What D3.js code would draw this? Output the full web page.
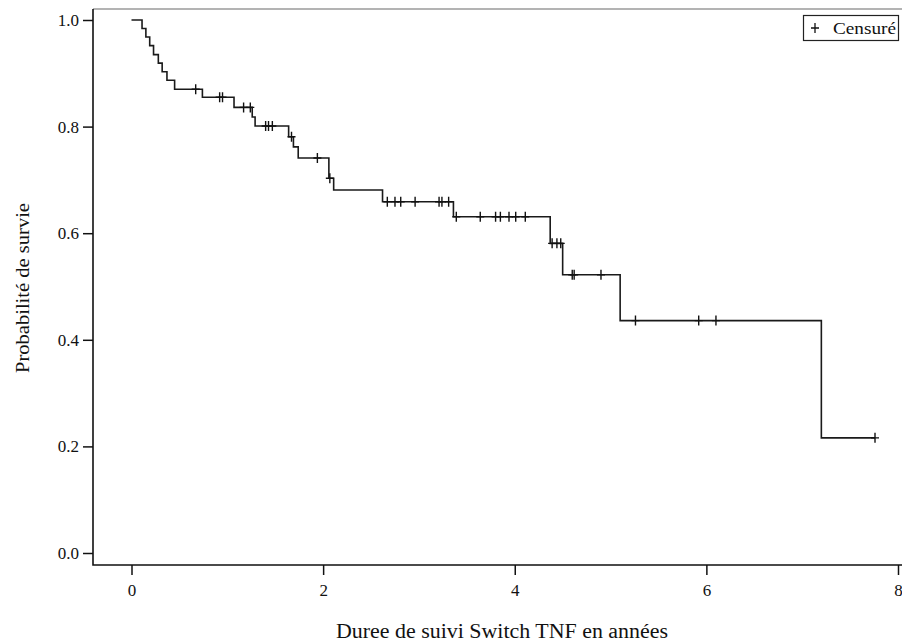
<!DOCTYPE html>
<html>
<head>
<meta charset="utf-8">
<script src="https://cdn.jsdelivr.net/npm/d3@7"></script>
<style>
  body { margin: 0; background: #fff; }
  svg text { font-family: "Liberation Serif", "Times New Roman", serif; fill: #111; }
</style>
</head>
<body>
<script>
// Kaplan-Meier steps
var eventTimes = [0.11, 0.15, 0.19, 0.23, 0.28, 0.32, 0.37, 0.45, 0.74, 1.07, 1.26, 1.29,
  1.64, 1.69, 1.74, 2.06, 2.11, 2.62, 3.36, 4.37, 4.50, 5.10, 7.20];
var survival = [0.984, 0.968, 0.952, 0.935, 0.919, 0.903, 0.887, 0.870, 0.855, 0.836, 0.818, 0.801,
  0.781, 0.762, 0.741, 0.703, 0.681, 0.659, 0.631, 0.581, 0.522, 0.436, 0.216];
var censorTimes = [0.67, 0.92, 0.95, 1.17, 1.24, 1.40, 1.43, 1.47, 1.67, 1.94, 2.07, 2.67, 2.75,
  2.81, 2.96, 3.21, 3.24, 3.31, 3.39, 3.64, 3.80, 3.85, 3.94, 4.01, 4.11, 4.39, 4.44, 4.48,
  4.60, 4.62, 4.90, 5.26, 5.92, 6.10, 7.76];
var xTicks = [0, 2, 4, 6, 8];
var yTicks = [0, 0.2, 0.4, 0.6, 0.8, 1.0];

var width = 902,
  height = 644;

var serif = "'Liberation Serif', 'Times New Roman', serif";
var frame = { left: 93, top: 9, bottom: 565, right: 902 };

var x = d3.scaleLinear().domain([0, 8]).range([131.5, 898]);
var y = d3.scaleLinear().domain([0, 1]).range([553, 20]);

var svg = d3.select("body").append("svg")
  .attr("width", width)
  .attr("height", height);

function survAt(t) {
  var s = 1;
  eventTimes.forEach(function(e, i) { if (e <= t) s = survival[i]; });
  return s;
}

// frame: light top line, black L axes
svg.append("line")
  .attr("x1", frame.left).attr("x2", frame.right)
  .attr("y1", frame.top).attr("y2", frame.top)
  .attr("stroke", "#9a9a9a").attr("stroke-width", 1.5);

svg.append("path")
  .attr("d", "M" + frame.left + "," + frame.top + "V" + frame.bottom + "H" + frame.right)
  .attr("fill", "none")
  .attr("stroke", "#111")
  .attr("stroke-width", 1.6);

var yAxis = svg.append("g")
  .attr("transform", "translate(" + frame.left + ",0)")
  .call(d3.axisLeft(y).tickValues(yTicks).tickFormat(d3.format(".1f")).tickSize(10).tickPadding(4));

var xAxis = svg.append("g")
  .attr("transform", "translate(0," + frame.bottom + ")")
  .call(d3.axisBottom(x).tickValues(xTicks).tickFormat(d3.format("d")).tickSize(10).tickPadding(9));

[yAxis, xAxis].forEach(function(a) {
  a.attr("font-family", serif).attr("font-size", 17);
  a.select(".domain").remove();
  a.selectAll(".tick line").attr("stroke", "#111").attr("stroke-width", 1.5);
  a.selectAll(".tick text")
    .attr("font-family", serif)
    .attr("fill", "#111");
});

// step curve
var pts = [[0, 1]];
eventTimes.forEach(function(t, i) {
  pts.push([t, pts[pts.length - 1][1]]);
  pts.push([t, survival[i]]);
});
var tEnd = d3.max(censorTimes);
pts.push([tEnd, survAt(tEnd)]);

var line = d3.line()
  .x(function(d) { return x(d[0]); })
  .y(function(d) { return y(d[1]); });

svg.append("path")
  .datum(pts)
  .attr("d", line)
  .attr("fill", "none")
  .attr("stroke", "#1a1a1a")
  .attr("stroke-width", 1.6);

// censored marks
var cross = "M-4,0H4M0,-5V5";
svg.selectAll(".censor")
  .data(censorTimes)
  .enter().append("path")
  .attr("class", "censor")
  .attr("transform", function(d) { return "translate(" + x(d) + "," + y(survAt(d)) + ")"; })
  .attr("d", cross)
  .attr("stroke", "#111")
  .attr("stroke-width", 1.4)
  .attr("fill", "none");

// legend
var leg = svg.append("g");
leg.append("rect")
  .attr("x", 803.5).attr("y", 15.5)
  .attr("width", 95).attr("height", 25)
  .attr("fill", "#fff")
  .attr("stroke", "#222")
  .attr("stroke-width", 1.2);
leg.append("path")
  .attr("transform", "translate(815,28)")
  .attr("d", cross)
  .attr("stroke", "#111")
  .attr("stroke-width", 1.3);
leg.append("text")
  .attr("x", 833).attr("y", 33.5)
  .attr("textLength", 63)
  .attr("lengthAdjust", "spacingAndGlyphs")
  .style("font-size", "17px")
  .text("Censuré");

// axis titles
svg.append("text")
  .attr("x", 502).attr("y", 638)
  .attr("text-anchor", "middle")
  .attr("textLength", 332)
  .attr("lengthAdjust", "spacingAndGlyphs")
  .style("font-size", "20px")
  .text("Duree de suivi Switch TNF en années");

svg.append("text")
  .attr("transform", "translate(29,288) rotate(-90)")
  .attr("text-anchor", "middle")
  .attr("textLength", 170)
  .attr("lengthAdjust", "spacingAndGlyphs")
  .style("font-size", "19px")
  .text("Probabilité de survie");
</script>
</body>
</html>
